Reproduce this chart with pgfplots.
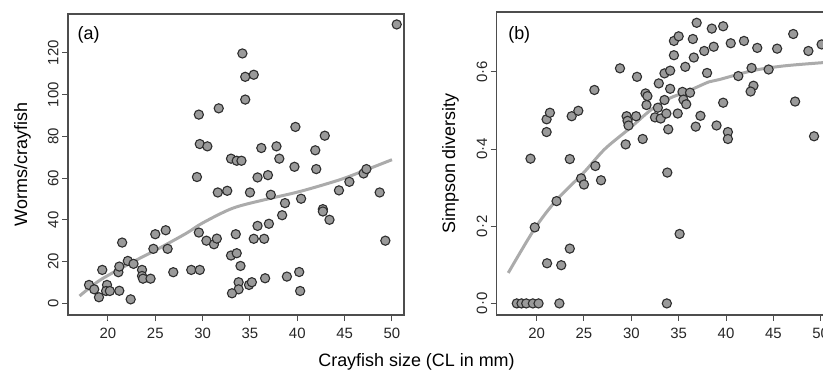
\documentclass[border=0pt]{standalone}
\usepackage{fontspec}
\setmainfont{Liberation Sans}
\usepackage{pgfplots}
\pgfplotsset{compat=1.18}
\definecolor{ptfill}{HTML}{9A9A9A}
\definecolor{ptedge}{HTML}{2E2E2E}
\definecolor{fitc}{HTML}{ABABAB}
\definecolor{framec}{HTML}{4D4D4D}
\pgfplotsset{
  myax/.style={scale only axis, width=336bp, anchor=south west,
    axis line style={draw=framec, line width=1.4bp},
    tick align=outside, xtick pos=bottom, ytick pos=left, major tick length=6bp,
    tick style={draw=framec, line width=1bp},
    xmin=15.78, xmax=51.27,
    xtick={20,25,...,50}, xticklabels={20,25,30,35,40,45,50},
    ticklabel style={font=\fontsize{15}{15}\selectfont, text=black!85},
    xticklabel style={yshift=-4bp},
    yticklabel style={rotate=90, anchor=south},
    clip=false},
  pts/.style={only marks, mark=*, mark size=4.6bp, mark options={fill=ptfill, draw=ptedge, line width=1.1bp}},
  fitl/.style={no marks, smooth, draw=fitc, line width=3bp},
}
\begin{document}
\begin{tikzpicture}
\useasboundingbox (0,0) rectangle (823bp,370bp);
\begin{axis}[myax, at={(68bp,55bp)}, height=301bp, ymin=-5.6, ymax=138.6,
  ytick={0,20,...,120}, yticklabels={0,20,40,60,80,100,120}]
\addplot[pts] coordinates {
(18.0,8.8)(18.55,6.7)(19.05,2.9)(19.4,16)(19.9,8.8)(19.8,5.9)(20.2,5.9)
(21.2,6)(21.1,14.9)(21.2,17.6)(21.5,29.1)(22.1,20.3)(22.4,1.9)(22.7,18.9)
(23.6,16)(23.6,13.1)(23.7,11.8)(24.5,11.8)(24.8,26.1)(25.0,33.1)(26.1,35.0)
(26.3,26.1)(26.9,14.9)(28.8,16)(29.7,16)(29.6,33.9)(30.4,30)(29.4,60.5)
(29.6,90.4)(29.7,76.3)(30.5,75.2)(50.5,133.6)(34.2,119.7)(34.5,108.5)
(35.4,109.5)(34.5,97.6)(31.7,93.4)(39.8,84.5)(42.9,80.3)(36.2,74.4)
(37.8,75.2)(38.1,69.3)(41.9,73.3)(33.0,69.3)(33.6,68.3)(34.1,68.3)
(39.7,65.4)(42.0,64.3)(35.8,60.3)(36.9,61.4)(45.5,58.2)(47.0,62.2)(47.3,64.3)
(31.6,53.1)(32.6,53.9)(35.0,53.1)(37.2,52)(38.7,48)(38.4,42.2)(40.4,50.1)
(42.7,45.1)(42.7,44.0)(43.4,40)(44.4,54.1)(48.7,53.1)(49.3,30)
(31.2,28.3)(31.5,31)(33.5,33.1)(35.8,37.1)(37.0,38.1)(35.4,30.9)(36.5,30.9)
(33.0,22.9)(33.6,24)(34.0,17.9)(33.8,10.1)(33.8,6.7)(33.1,4.8)(34.9,8.8)
(35.2,10.1)(36.6,12)(38.9,12.8)(40.2,15)(40.3,5.9)
};
\addplot[fitl] coordinates {
(17.0,3.5)(19.2,11.2)(22.7,20)(25.1,25.6)(28.3,33.6)(30.0,38.5)(33.2,45.6)
(36.8,49.9)(40.3,53.6)(44.5,59.2)(47.3,64)(50,68.8)
};
\node[anchor=north west, font=\fontsize{18}{18}\selectfont] at (rel axis cs:0.018,0.97) {(a)};
\node[rotate=90, anchor=base, font=\fontsize{18}{18}\selectfont] at (rel axis cs:-0.122,0.5) {Worms/crayfish};
\end{axis}
\begin{axis}[myax, at={(496.7bp,55bp)}, height=303bp, ymin=-0.030, ymax=0.755,
  ytick={0,0.2,0.4,0.6}, yticklabels={0·0,0·2,0·4,0·6}]
\addplot[pts] coordinates {
(17.9,0)(18.4,0)(18.9,0)(19.6,0)(20.2,0)(22.4,0)
(19.8,0.197)(21.1,0.104)(22.6,0.099)(23.5,0.142)(22.1,0.265)
(19.35,0.375)(23.5,0.374)(21.05,0.444)(21.05,0.477)(21.4,0.494)
(23.7,0.485)(24.4,0.499)(26.1,0.553)(28.8,0.609)
(26.2,0.356)(26.8,0.319)(24.7,0.324)(25.0,0.308)
(29.4,0.412)(29.5,0.485)(29.6,0.473)(30.5,0.485)(29.7,0.461)
(31.2,0.426)(30.6,0.587)
(31.5,0.544)(31.7,0.537)(31.6,0.514)
(32.9,0.570)(33.5,0.596)(34.1,0.603)(34.1,0.556)(33.5,0.527)(32.8,0.507)
(32.5,0.482)(33.1,0.479)(33.7,0.492)(33.9,0.451)(34.9,0.492)
(35.4,0.548)(35.5,0.528)(35.8,0.516)(36.2,0.546)
(35.7,0.613)(34.5,0.643)(34.5,0.680)(35.0,0.692)(36.5,0.685)(36.9,0.727)
(36.6,0.637)(37.7,0.654)(38.0,0.597)(37.3,0.486)(36.8,0.458)
(33.8,0.339)(35.1,0.180)(33.75,0)
(38.5,0.712)(39.7,0.718)(38.7,0.665)(40.5,0.674)(41.9,0.680)(43.3,0.662)
(45.4,0.660)(47.1,0.698)(48.7,0.654)(50.1,0.671)
(41.3,0.589)(42.7,0.610)(44.5,0.606)(42.9,0.564)(42.6,0.549)
(39.0,0.461)(39.7,0.520)(40.2,0.444)(40.2,0.426)(47.3,0.523)(49.3,0.433)
};
\addplot[fitl] coordinates {
(17.0,0.079)(19.8,0.194)(22.1,0.268)(24.9,0.337)(27.2,0.40)(29.8,0.453)
(32,0.50)(34.0,0.531)(35.8,0.548)(38.2,0.574)(39.3,0.580)(42.8,0.603)
(46,0.615)(49.8,0.623)(51,0.625)
};
\node[anchor=north west, font=\fontsize{18}{18}\selectfont] at (rel axis cs:0.024,0.965) {(b)};
\node[rotate=90, anchor=base, font=\fontsize{18}{18}\selectfont] at (rel axis cs:-0.1241,0.5) {Simpson diversity};
\end{axis}
\node[anchor=base, font=\fontsize{18}{18}\selectfont] at (416.5bp,4bp) {Crayfish size (CL in mm)};
\end{tikzpicture}
\end{document}
